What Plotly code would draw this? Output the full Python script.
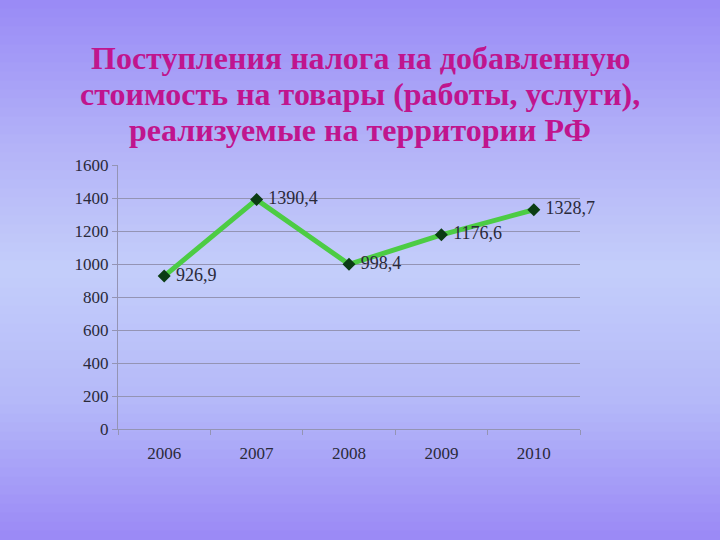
import plotly.graph_objects as go

years = ["2006", "2007", "2008", "2009", "2010"]
values = [926.9, 1390.4, 998.4, 1176.6, 1328.7]
y_ticks = [0, 200, 400, 600, 800, 1000, 1200, 1400, 1600]
title_lines = ["Поступления налога на добавленную",
               "стоимость на товары (работы, услуги),",
               "реализуемые на территории РФ"]

labels = [" " + ("%.1f" % v).replace(".", ",") for v in values]
serif = "Liberation Serif, Times New Roman, serif"

fig = go.Figure()
fig.add_trace(go.Scatter(
    x=years, y=values, mode="lines+markers+text",
    text=labels, textposition="middle right",
    textfont=dict(family=serif, size=18, color="#2a2a3a"),
    line=dict(color="#4ccc44", width=5),
    marker=dict(symbol="diamond", size=10, color="#0b3d14"),
    cliponaxis=False, showlegend=False,
))

# vertical gradient background via stacked strips
stops = [(0.0, (153, 138, 246)), (0.28, (180, 180, 248)), (0.5, (196, 206, 250)),
         (0.75, (180, 184, 249)), (1.0, (154, 136, 246))]
def col(t):
    for (t0, c0), (t1, c1) in zip(stops[:-1], stops[1:]):
        if t0 <= t <= t1:
            f = (t - t0) / (t1 - t0)
            return "rgb(%d,%d,%d)" % tuple(round(a + (b - a) * f) for a, b in zip(c0, c1))
    return "rgb(%d,%d,%d)" % stops[-1][1]
n = 60
shapes = []
for i in range(n):
    y0 = 1 - (i + 1) / n
    y1 = 1 - i / n
    shapes.append(dict(type="rect", xref="paper", yref="paper", x0=0, x1=1,
                       y0=y0 - 0.001, y1=y1 + 0.001, line=dict(width=0),
                       fillcolor=col((i + 0.5) / n), layer="below"))

title_y = [58, 94, 130]
annotations = [dict(text="<b>%s</b>" % t, x=0.5, y=1 - yy / 540, xref="paper", yref="paper",
                    showarrow=False, yanchor="middle", xanchor="center",
                    font=dict(family=serif, size=32, color="#c0158e"))
               for t, yy in zip(title_lines, title_y)]

fig.update_layout(
    width=720, height=540,
    margin=dict(l=0, r=0, t=0, b=0),
    paper_bgcolor="rgb(153,138,246)",
    plot_bgcolor="rgba(0,0,0,0)",
    shapes=shapes,
    annotations=annotations,
    font=dict(family=serif, color="#2a2a3a"),
    xaxis=dict(domain=[118 / 720, 580 / 720], type="category", range=[-0.5, 4.5],
               tickson="boundaries", automargin=False,
               ticks="outside", ticklen=5, tickcolor="#9494b4", showline=True,
               linecolor="#9494b4", showgrid=False, tickfont=dict(size=17),
               ticklabelstandoff=9),
    yaxis=dict(domain=[1 - 429 / 540, 1 - 165 / 540], range=[0, 1600], tickvals=y_ticks,
               automargin=False,
               ticks="outside", ticklen=5, tickcolor="#9494b4", showline=True,
               linecolor="#9494b4", gridcolor="#9494b4", gridwidth=1, zeroline=False,
               tickfont=dict(size=17)),
)
fig.write_html("out.html", config={"displayModeBar": False},
               post_script="document.body.style.margin='0';document.body.style.padding='0';")
